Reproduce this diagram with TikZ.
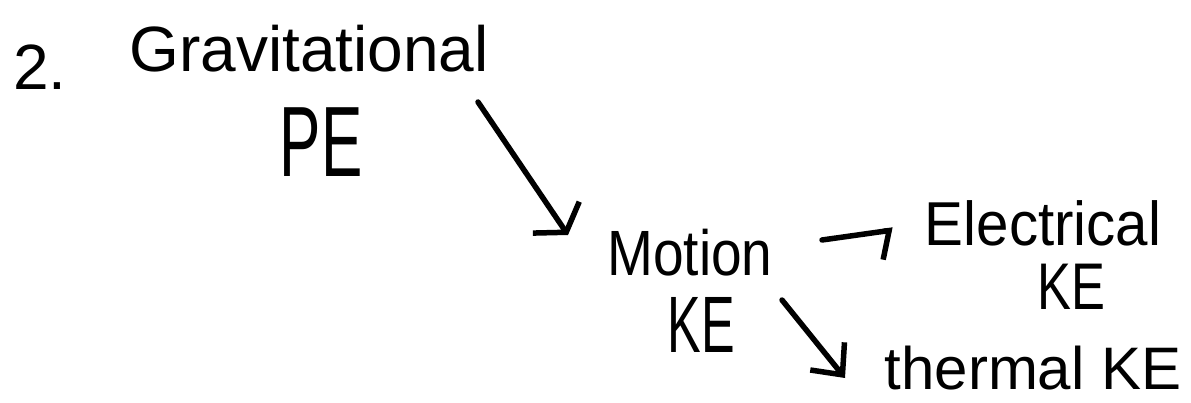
\documentclass[tikz,border=0pt]{standalone}
\usepackage{fontspec}
\setmainfont{Liberation Sans}
\usetikzlibrary{arrows.meta}
\begin{document}
\begin{tikzpicture}[x=1pt,y=-1pt,
  lbl/.style={inner sep=0pt, anchor=base},
  arr/.style={line width=5.5pt, line cap=round, line join=round}]
\useasboundingbox (0,0) rectangle (1191,403);
\node[lbl, font=\fontsize{64}{64}\selectfont] (num) at (40,90) {2.};
\node[lbl, font=\fontsize{64}{64}\selectfont] (grav) at (309,72) {Gravitational};
\node[lbl, font=\fontsize{100}{100}\selectfont] (pe) at (321,177) {\scalebox{0.62}[1]{PE}};
\node[lbl, font=\fontsize{64}{64}\selectfont] (motion) at (690,276) {\scalebox{0.86}[1]{Motion}};
\node[lbl, font=\fontsize{80}{80}\selectfont] (ke1) at (701,352) {\scalebox{0.63}[1]{KE}};
\node[lbl, font=\fontsize{62}{62}\selectfont] (elec) at (1043,246) {\scalebox{0.94}[1]{Electrical}};
\node[lbl, font=\fontsize{66}{66}\selectfont] (ke2) at (1071,309) {\scalebox{0.77}[1]{KE}};
\node[lbl, font=\fontsize{60}{60}\selectfont] (thermal) at (1033,389) {thermal KE};
\coordinate (a1s) at (478,102);
\coordinate (a1e) at (568,235);
\coordinate (a2s) at (822,240);
\coordinate (a2e) at (893,230);
\coordinate (a3s) at (782,300);
\coordinate (a3e) at (845,378);
\draw[arr, -{Straight Barb[length=18pt,width=56pt]}] (a1s) -- (a1e);
\draw[arr, -{Straight Barb[harpoon,swap,length=10pt,width=56pt]}] (a2s) -- (a2e);
\draw[arr, -{Straight Barb[length=24pt,width=44pt]}] (a3s) -- (a3e);
\end{tikzpicture}
\end{document}
